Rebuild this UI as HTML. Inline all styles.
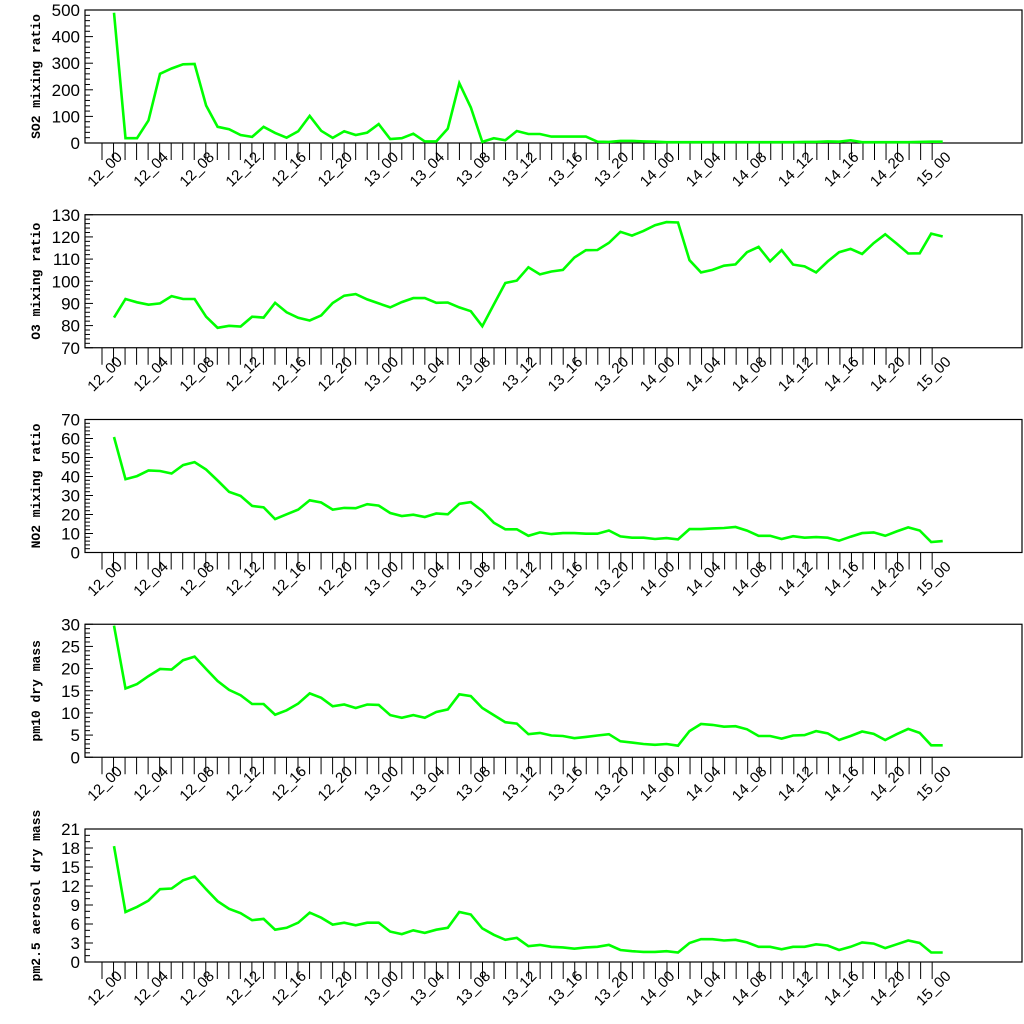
<!DOCTYPE html>
<html><head><meta charset="utf-8">
<style>
html,body{margin:0;padding:0;background:#fff;}
svg{display:block;}
</style></head>
<body>
<svg id="chart" width="1024" height="1024" xmlns="http://www.w3.org/2000/svg"></svg>
<script>
const hours = Array.from({length:73},(_,i)=>i);
const so2Values = [490,18,18,85,260,280,296,297,141,61,52,30,23,61,38,20,44,102,46,19,44,30,39,71,15,18,35,6,6,54,225,134,4,18,10,45,34,34,24,24,24,24,5,4,8,8,6,5,3,3,3,3,3,3,3,3,3,3,3,3,4,4,6,5,10,3,3,3,3,3,4,5,5];
const o3Values = [83.6,92,90.5,89.4,90,93.3,92,92,84,79,79.9,79.6,84,83.6,90.3,86,83.5,82.3,84.6,90.2,93.5,94.2,91.8,90,88.2,90.6,92.4,92.4,90.3,90.4,88.2,86.5,79.7,89.5,99.2,100.3,106.3,103.1,104.4,105.1,110.7,114,114.1,117.3,122.3,120.6,122.7,125.3,126.7,126.5,109.5,104,105.1,107,107.6,113.1,115.5,109,114,107.5,106.7,104,108.9,113.1,114.6,112.3,117.2,121.2,117,112.5,112.6,121.5,120.2];
const no2Values = [60.8,38.6,40.2,43.2,42.9,41.6,46,47.6,43.7,37.9,31.9,29.8,24.5,23.8,17.6,20.1,22.6,27.5,26.3,22.6,23.5,23.3,25.4,24.7,20.8,19.2,19.9,18.7,20.5,20.1,25.6,26.5,21.9,15.7,12.2,12.2,8.8,10.6,9.7,10.2,10.2,9.9,9.9,11.6,8.5,7.8,7.8,7.1,7.6,6.9,12.3,12.3,12.7,12.9,13.4,11.5,8.8,8.8,7.1,8.6,7.8,8.1,7.8,6.2,8.3,10.2,10.6,8.8,11.1,13.2,11.6,5.5,6];
const pm10Values = [29.7,15.5,16.5,18.3,19.9,19.8,21.9,22.7,19.9,17.2,15.2,14,12,12,9.6,10.6,12.1,14.4,13.4,11.5,11.9,11.1,11.9,11.8,9.5,8.9,9.5,8.9,10.2,10.8,14.2,13.8,11.1,9.5,7.9,7.6,5.2,5.5,4.9,4.8,4.3,4.6,4.9,5.2,3.6,3.3,3,2.8,3,2.6,5.9,7.5,7.3,6.9,7,6.3,4.8,4.8,4.2,4.9,5,5.9,5.4,3.9,4.8,5.8,5.3,3.9,5.2,6.4,5.5,2.7,2.7];
const pm25Values = [18.3,7.9,8.7,9.7,11.5,11.6,12.9,13.5,11.5,9.6,8.4,7.7,6.6,6.8,5.1,5.4,6.2,7.8,7,5.9,6.2,5.8,6.2,6.2,4.8,4.4,5,4.6,5.1,5.4,7.9,7.5,5.3,4.3,3.5,3.8,2.5,2.7,2.4,2.3,2.1,2.3,2.4,2.7,1.9,1.7,1.6,1.6,1.7,1.5,3,3.6,3.6,3.4,3.5,3.1,2.4,2.4,2,2.4,2.4,2.8,2.6,1.9,2.4,3.1,2.9,2.2,2.8,3.4,3,1.5,1.5];
const titles = ["SO2 mixing ratio","O3 mixing ratio","NO2 mixing ratio","pm10 dry mass","pm2.5 aerosol dry mass"];
const yMins = [0,70,0,0,0];
const yMaxs = [500,130,70,30,21];
const yMajor = [100,10,10,5,3];
const yMinor = [20,2,2,1,1];
const labelHours = [0,4,8,12,16,20,24,28,32,36,40,44,48,52,56,60,64,68,72];

const NS="http://www.w3.org/2000/svg";
const svg=document.getElementById('chart');
function mk(tag,attrs,parent){const e=document.createElementNS(NS,tag);for(const k in attrs)e.setAttribute(k,attrs[k]);(parent||svg).appendChild(e);return e;}
const L=85,R=1022,H=133;
const xOf=h=>114+h*11.51;
const series=[so2Values,o3Values,no2Values,pm10Values,pm25Values];
const names=['so2','o3','no2','pm10','pm25'];
series.forEach((vals,p)=>{
  const top=10+p*204.75, bot=top+H;
  const yOf=v=>bot-(v-yMins[p])/(yMaxs[p]-yMins[p])*H;
  const g=mk('g',{});
  
  
  const box=mk('rect',{x:L,y:top,width:R-L,height:H,fill:'none',stroke:'#000','stroke-width':1.2},g);
  
  
  // y minor ticks
  for(let v=yMins[p];v<=yMaxs[p]+1e-9;v+=yMinor[p]){
    const y=yOf(v);
    const isMaj=Math.abs(((v-yMins[p])/yMajor[p])-Math.round((v-yMins[p])/yMajor[p]))<1e-6;
    const t=mk('line',{x1:L,x2:L+(isMaj?8:5),y1:y,y2:y,stroke:'#000','stroke-width':1},g);
    
    
    if(isMaj){
      const lb=mk('text',{x:L-5,y:y+6,'text-anchor':'end','font-family':'Liberation Sans, sans-serif','font-size':17},g);
      lb.textContent=String(Math.round(v));
      
      
    }
  }
  // x ticks
  for(let i=0;i<=72;i++){
    const x=102+i*11.53;
    const t=mk('line',{x1:x,x2:x,y1:bot,y2:bot+17,stroke:'#000','stroke-width':1},g);
    
    
  }
  labelHours.forEach(h=>{
    const x=xOf(h)+9, y=bot+15;
    const lb=mk('text',{x:x,y:y,'text-anchor':'end','font-family':'Liberation Sans, sans-serif','font-size':15,transform:`rotate(-45 ${x} ${y})`},g);
    const d=12+Math.floor(h/24), hh=h%24;
    lb.textContent=d+'_'+String(hh).padStart(2,'0');
    
    
  });
  // title
  const cy=(top+bot)/2;
  const tt=mk('text',{x:40,y:cy,'text-anchor':'middle','font-family':'Liberation Mono, monospace','font-weight':'bold','font-size':13,transform:`rotate(-90 40 ${cy})`},g);
  tt.textContent=titles[p];
  
  
  // line
  const pts=vals.map((v,i)=>xOf(hours[i]).toFixed(1)+','+yOf(v).toFixed(1)).join(' ');
  const ln=mk('polyline',{points:pts,fill:'none',stroke:'#00ff00','stroke-width':2.6,'stroke-linejoin':'miter'},g);
  
  
});
</script>
</body></html>
